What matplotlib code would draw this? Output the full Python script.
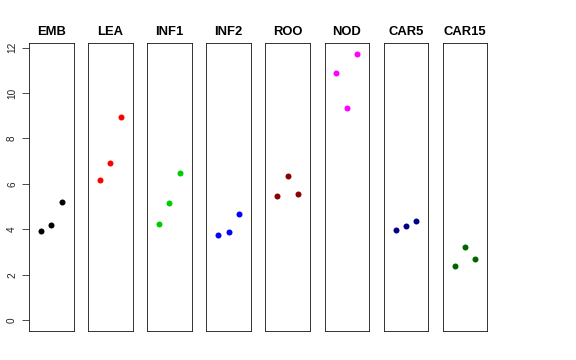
import numpy as np
import matplotlib.pyplot as plt

plt.rcParams['font.family'] = ['Liberation Sans', 'DejaVu Sans']

groups = ['EMB', 'LEA', 'INF1', 'INF2', 'ROO', 'NOD', 'CAR5', 'CAR15']
colors = ['black', 'red', '#00CD00', 'blue', '#8B0000', 'magenta', '#00008B', '#006400']
emb = [3.93, 4.19, 5.19]
lea = [6.19, 6.94, 8.93]
inf1 = [4.24, 5.18, 6.47]
inf2 = [3.77, 3.87, 4.67]
roo = [5.46, 6.35, 5.57]
nod = [10.90, 9.33, 11.73]
car5 = [3.97, 4.15, 4.37]
car15 = [2.40, 3.23, 2.68]
values = [emb, lea, inf1, inf2, roo, nod, car5, car15]
yticks = [0, 2, 4, 6, 8, 10, 12]

W, H = 576, 360
fig = plt.figure(figsize=(W / 72, H / 72), dpi=72)

left0 = 29      # px, left edge of first panel
step = 59.1     # px between panel left edges
pw = 44.5       # panel width px
top, bottom = 43, 331

ymax = max(max(v) for v in values)
yr = ymax * 0.04

for i, (g, vals, c) in enumerate(zip(groups, values, colors)):
    x0 = left0 + i * step
    ax = fig.add_axes([x0 / W, 1 - bottom / H, pw / W, (bottom - top) / H])
    x = np.arange(1, len(vals) + 1)
    ax.scatter(x, vals, s=36, color=c, linewidths=0, zorder=3)
    ax.set_xlim(-0.16, 4.16)
    ax.set_ylim(-yr, ymax + yr)
    ax.set_xticks([])
    ax.set_title(g, fontsize=13, fontweight='bold', pad=8)
    for s in ax.spines.values():
        s.set_linewidth(0.9)
        s.set_color('#222222')
    if i == 0:
        ax.set_yticks(yticks)
        ax.set_yticklabels([str(t) for t in yticks], rotation=90, va='center', fontsize=10)
        ax.tick_params(axis='y', length=7, width=0.8, pad=5, colors='#222222')
    else:
        ax.set_yticks([])

fig.savefig('out.png', dpi=72)
